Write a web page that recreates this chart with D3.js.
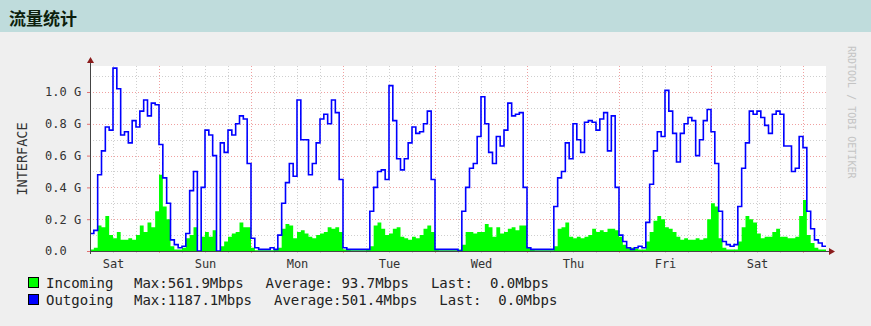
<!DOCTYPE html>
<html>
<head>
<meta charset="utf-8">
<script src="https://cdn.jsdelivr.net/npm/d3@7"></script>
<style>
  body { margin: 0; background: #efefef; }
  svg { display: block; }
</style>
</head>
<body>
<svg id="chart" width="871" height="326"></svg>
<script>
// hourly samples starting Sat 06:00, 8 days, values in G(bit/s)
var outgoing = [
  0.11,0.13,0.48,0.63,0.78,0.76,1.15,1.02,0.73,0.75,0.68,0.82,0.78,0.88,0.95,0.85,0.93,0.92,0.67,0.46,0.30,0.07,0.04,0.02,
  0.03,0.11,0.38,0.50,0.00,0.40,0.76,0.73,0.60,0.00,0.68,0.62,0.76,0.73,0.80,0.85,0.83,0.55,0.08,0.02,0.01,0.01,0.01,0.02,
  0.01,0.10,0.30,0.43,0.55,0.47,0.95,0.70,0.70,0.48,0.55,0.68,0.83,0.86,0.80,0.95,0.87,0.45,0.02,0.01,0.01,0.01,0.01,0.01,
  0.01,0.25,0.40,0.50,0.51,0.45,1.04,0.82,0.58,0.51,0.58,0.68,0.78,0.74,0.75,0.80,0.88,0.45,0.01,0.01,0.01,0.01,0.01,0.01,
  0.00,0.25,0.40,0.52,0.55,0.72,0.97,0.80,0.62,0.55,0.72,0.66,0.76,0.93,0.85,0.86,0.87,0.40,0.02,0.01,0.01,0.01,0.01,0.01,
  0.01,0.28,0.46,0.50,0.68,0.58,0.80,0.70,0.62,0.81,0.82,0.81,0.76,0.83,0.87,0.63,0.85,0.40,0.10,0.06,0.02,0.01,0.02,0.03,
  0.02,0.18,0.42,0.63,0.75,0.72,1.01,0.88,0.74,0.56,0.74,0.80,0.84,0.82,0.60,0.70,0.82,0.89,0.75,0.55,0.25,0.06,0.04,0.03,
  0.04,0.28,0.52,0.68,0.88,0.86,0.88,0.84,0.79,0.74,0.86,0.88,0.86,0.66,0.66,0.50,0.52,0.72,0.65,0.25,0.14,0.07,0.05,0.03
]
var incoming = [
  0.01,0.02,0.16,0.15,0.22,0.10,0.08,0.12,0.07,0.07,0.08,0.07,0.10,0.16,0.12,0.18,0.15,0.25,0.48,0.28,0.20,0.03,0.01,0.01,
  0.02,0.08,0.10,0.15,0.00,0.09,0.12,0.09,0.13,0.00,0.03,0.06,0.09,0.11,0.12,0.18,0.15,0.15,0.02,0.005,0.005,0.005,0.005,0.005,
  0.01,0.02,0.14,0.17,0.16,0.08,0.12,0.13,0.11,0.09,0.08,0.10,0.11,0.12,0.15,0.14,0.15,0.12,0.01,0.01,0.005,0.005,0.005,0.005,
  0.01,0.03,0.16,0.18,0.14,0.10,0.11,0.14,0.15,0.09,0.08,0.07,0.09,0.08,0.10,0.14,0.16,0.12,0.01,0.005,0.005,0.005,0.005,0.005,
  0.01,0.04,0.12,0.12,0.11,0.12,0.12,0.17,0.15,0.09,0.15,0.11,0.12,0.14,0.15,0.13,0.16,0.16,0.02,0.01,0.005,0.005,0.005,0.005,
  0.005,0.03,0.14,0.15,0.18,0.09,0.08,0.09,0.08,0.09,0.10,0.14,0.12,0.13,0.12,0.14,0.14,0.13,0.09,0.04,0.02,0.02,0.015,0.01,
  0.01,0.06,0.12,0.19,0.22,0.20,0.15,0.14,0.12,0.09,0.07,0.08,0.07,0.07,0.08,0.07,0.08,0.20,0.30,0.28,0.08,0.02,0.01,0.01,
  0.01,0.06,0.15,0.22,0.20,0.18,0.11,0.08,0.09,0.09,0.12,0.14,0.09,0.09,0.08,0.08,0.09,0.22,0.32,0.10,0.05,0.02,0.01,0.01
]

var days = ["Sat", "Sun", "Mon", "Tue", "Wed", "Thu", "Fri", "Sat"]
var yTicks = [0, 0.2, 0.4, 0.6, 0.8, 1.0]

var legendNames = ["Incoming", "Outgoing"]
var legendColors = ["#00ff00", "#0000ff"]
var legendMax = ["Max:561.9Mbps", "Max:1187.1Mbps"]
var legendAvg = ["Average: 93.7Mbps", "Average:501.4Mbps"]
var legendLast = ["Last:  0.0Mbps", "Last:  0.0Mbps"]

var plotL = 90, plotR = 826, plotT = 66, plotB = 251
var hours = outgoing.length

var x = d3.scaleLinear().domain([0, hours]).range([plotL, plotR])
var y = d3.scaleLinear().domain([0, 1.1635]).range([plotB, plotT])

var svg = d3.select('#chart')
var mono = "'DejaVu Sans Mono', monospace"

// title bar
svg.append("rect").attr("x", 0).attr("y", 0).attr("width", 871).attr("height", 32).style("fill", "#bfdcdc")
svg.append("text")
    .attr("x", 9).attr("y", 25)
    .text("流量统计")
    .style("font-family", "'Noto Sans CJK SC'")
    .style("font-size", "17px")
    .style("font-weight", "bold")
    .style("fill", "#0d1f0d")

// canvas
svg.append("rect").attr("x", plotL).attr("y", plotT)
    .attr("width", plotR - plotL).attr("height", plotB - plotT)
    .style("fill", "#ffffff")

// grid: 0.1 G horizontal, 6 h vertical; majors red
var grid = svg.append("g")
d3.range(1, 12).forEach(function(i) {
    var major = i % 2 == 0
    grid.append("line")
        .attr("x1", plotL).attr("x2", plotR)
        .attr("y1", Math.round(y(i / 10)) + 0.5).attr("y2", Math.round(y(i / 10)) + 0.5)
        .style("stroke", major ? "#f0a0a0" : "#cfcfcf")
        .style("stroke-dasharray", "1,2")
})
d3.range(6, hours, 6).forEach(function(t) {
    var major = (t - 18) % 24 == 0
    grid.append("line")
        .attr("x1", Math.round(x(t)) + 0.5).attr("x2", Math.round(x(t)) + 0.5)
        .attr("y1", plotT).attr("y2", plotB + 2)
        .style("stroke", major ? "#f0a0a0" : "#cfcfcf")
        .style("stroke-dasharray", "1,2")
})

// incoming area
var stepPts = function(arr) {
    var pts = arr.map(function(v, i) { return [i, v] })
    pts.push([arr.length, arr[arr.length - 1]])
    return pts
}

svg.append("path")
    .datum(stepPts(incoming))
    .attr("d", d3.area().curve(d3.curveStepAfter)
        .x(function(d) { return x(d[0]) })
        .y0(y(0))
        .y1(function(d) { return y(d[1]) }))
    .style("fill", "#00ff00")

// outgoing line
svg.append("path")
    .datum(stepPts(outgoing))
    .attr("d", d3.line().curve(d3.curveStepAfter)
        .x(function(d) { return x(d[0]) })
        .y(function(d) { return y(d[1]) }))
    .style("fill", "none")
    .style("stroke", "#0000ff")
    .style("stroke-width", 1.6)

// axes lines
svg.append("line").attr("x1", plotL - 3).attr("x2", plotR + 3).attr("y1", plotB + 0.5).attr("y2", plotB + 0.5)
    .style("stroke", "#444").style("stroke-width", 1)
svg.append("line").attr("x1", plotL + 0.5).attr("x2", plotL + 0.5).attr("y1", plotT - 4).attr("y2", plotB + 3)
    .style("stroke", "#444").style("stroke-width", 1)
svg.append("path").attr("d", "M" + (plotL - 3) + "," + (plotT - 3) + "L" + (plotL + 4) + "," + (plotT - 3) + "L" + (plotL + 0.5) + "," + (plotT - 9) + "Z")
    .style("fill", "#8b1c1c")
svg.append("path").attr("d", "M" + (plotR + 3) + "," + (plotB - 3) + "L" + (plotR + 3) + "," + (plotB + 4) + "L" + (plotR + 9) + "," + (plotB + 0.5) + "Z")
    .style("fill", "#8b1c1c")

// y axis labels
var yAxis = svg.append("g")
    .attr("transform", "translate(" + plotL + ",0)")
    .call(d3.axisLeft(y).tickValues(yTicks).tickSize(3)
        .tickFormat(function(d) { return d == 0 ? "0.0" : d3.format(".1f")(d) + " G" }))
yAxis.select(".domain").remove()
yAxis.selectAll("line").style("stroke", "#e07070")
yAxis.selectAll("text")
    .attr("x", -45)
    .style("text-anchor", "start")
    .style("font-family", mono)
    .style("font-size", "12px")
    .style("fill", "#333")

// x axis labels at noon of each day
var xAxis = svg.append("g")
    .attr("transform", "translate(0," + plotB + ")")
    .call(d3.axisBottom(x).tickValues(days.map(function(d, i) { return 6 + 24 * i }))
        .tickSize(0)
        .tickFormat(function(d, i) { return days[i] }))
xAxis.select(".domain").remove()
xAxis.selectAll("text")
    .attr("y", 17).attr("dy", 0)
    .style("font-family", mono)
    .style("font-size", "12px")
    .style("fill", "#333")

// vertical label
svg.append("text")
    .attr("transform", "translate(27,159) rotate(-90)")
    .attr("text-anchor", "middle")
    .text("INTERFACE")
    .style("font-family", mono)
    .style("font-size", "13.5px")
    .style("fill", "#333")

// watermark
svg.append("text")
    .attr("transform", "translate(848,46) rotate(90)")
    .text("RRDTOOL / TOBI OETIKER")
    .style("font-family", mono)
    .style("font-size", "10px")
    .style("fill", "#c4c4c4")

// legend
legendNames.forEach(function(name, i) {
    var row = svg.append("g").attr("transform", "translate(0," + (288 + i * 17) + ")")
    row.append("rect").attr("x", 28.5).attr("y", -10.5).attr("width", 10).attr("height", 10)
        .style("fill", legendColors[i]).style("stroke", "#000")
    var pieces = [legendMax[i], legendAvg[i], legendLast[i]]
    row.append("text").attr("x", 46).text(name)
        .style("font-family", mono).style("font-size", "14px").style("fill", "#222")
    var px = 134
    pieces.forEach(function(p) {
        var t = row.append("text").attr("x", px).text(p)
            .style("white-space", "pre")
            .style("font-family", mono).style("font-size", "14px").style("fill", "#222")
        px += t.node().getComputedTextLength() + 22
    })
})
</script>
</body>
</html>
